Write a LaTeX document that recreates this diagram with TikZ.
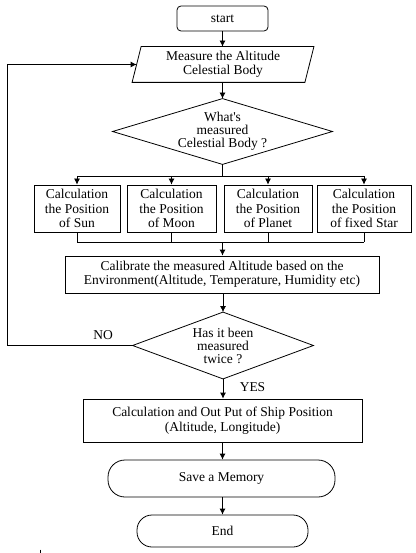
\documentclass[tikz,border=0pt]{standalone}
\usepackage{fontspec}
\setmainfont{Liberation Serif}
\usetikzlibrary{arrows.meta,calc}
\tikzset{
  base/.style={inner sep=0pt, align=center, font=\fontsize{13.5}{14.5}\selectfont},
  dtext/.style={base, rectangle, font=\fontsize{13.5}{13}\selectfont},
  procbox/.style={base, draw, rectangle},
  ghost/.style={base, rectangle},
  roundbox/.style={base, draw, rectangle, rounded corners=#1},
  arr/.style={-{Latex[length=6pt,width=6pt]}},
  lbl/.style={inner sep=0pt, font=\fontsize{13.5}{14.5}\selectfont}
}
\begin{document}
\begin{tikzpicture}[x=1pt,y=1pt,line width=0.8pt]
\useasboundingbox (0,0) rectangle (415,-553);

% main column
\node[roundbox=4pt, minimum width=91pt, minimum height=25pt] (start) at (222.5,-18.5) {start};
\node[ghost, minimum width=172pt, minimum height=35pt] (meas) at (223,-64.5) {Measure the Altitude\\Celestial Body};
\draw ($(meas.north west)+(4.5,0)$) -- ($(meas.north east)+(4.5,0)$) -- ($(meas.south east)+(-4.5,0)$) -- ($(meas.south west)+(-4.5,0)$) -- cycle;

\node[dtext, minimum width=219pt, minimum height=65pt] (q1) at (222.5,-131.5) {What\textquotesingle s\\measured\\Celestial Body ?};
\draw (q1.north) -- (q1.east) -- (q1.south) -- (q1.west) -- cycle;

% four calculation boxes
\node[procbox, minimum width=86pt, minimum height=47pt] (b1) at (77,-208.5) {Calculation\\the Position\\of Sun};
\node[procbox, minimum width=89pt, minimum height=47pt] (b2) at (171.5,-208.5) {Calculation\\the Position\\of Moon};
\node[procbox, minimum width=88pt, minimum height=47pt] (b3) at (268,-208.5) {Calculation\\the Position\\of Planet};
\node[procbox, minimum width=94pt, minimum height=47pt] (b4) at (364,-208.5) {Calculation\\the Position\\of fixed Star};

\node[procbox, minimum width=314pt, minimum height=37pt] (calib) at (222,-274.5) {Calibrate the measured Altitude based on the\\Environment(Altitude, Temperature, Humidity etc)};

\node[dtext, minimum width=180pt, minimum height=66pt] (q2) at (223,-345.5) {Has it been\\measured\\twice ?};
\draw (q2.north) -- (q2.east) -- (q2.south) -- (q2.west) -- cycle;

\node[procbox, minimum width=279pt, minimum height=43pt] (out) at (222.5,-420.5) {Calculation and Out Put of Ship Position\\(Altitude, Longitude)};
\node[roundbox=17pt, minimum width=227pt, minimum height=37pt] (save) at (221.5,-478.5) {Save a Memory};
\node[roundbox=15pt, minimum width=171pt, minimum height=32pt] (endn) at (222.5,-531) {End};

% labels
\node[lbl] (no) at (103,-335) {NO};
\node[lbl] (yes) at (252.5,-387) {YES};

% connectors
\draw[arr] (start.south) -- (meas.north -| start.south);
\draw[arr] (meas.south -| q1.north) -- (q1.north);

\coordinate (j1) at (222.5,-176);
\draw (q1.south) -- (j1);
\draw (b1.north |- j1) -- (b4.north |- j1);
\foreach \b in {b1,b2,b3,b4} { \draw[arr] (\b.north |- j1) -- (\b.north); }

\coordinate (j2) at (222.5,-242);
\foreach \b in {b1,b2,b3,b4} { \draw (\b.south) -- (\b.south |- j2); }
\draw (b1.south |- j2) -- (b4.south |- j2);
\draw[arr] (j2) -- (calib.north -| j2);

\draw[arr] (calib.south -| q2.north) -- (q2.north);
\draw[arr] (q2.south) -- (out.north -| q2.south);
\draw[arr] (out.south -| j2) -- (save.north -| j2);
\draw[arr] (save.south -| j2) -- (endn.north -| j2);

% NO loop
\coordinate (lp) at (7,-345.5);
\draw[arr] (q2.west) -- (lp) |- (meas.west);

% small stray mark
\draw[line width=0.7pt] (40.5,-549.5) -- (40.5,-553);
\end{tikzpicture}
\end{document}
